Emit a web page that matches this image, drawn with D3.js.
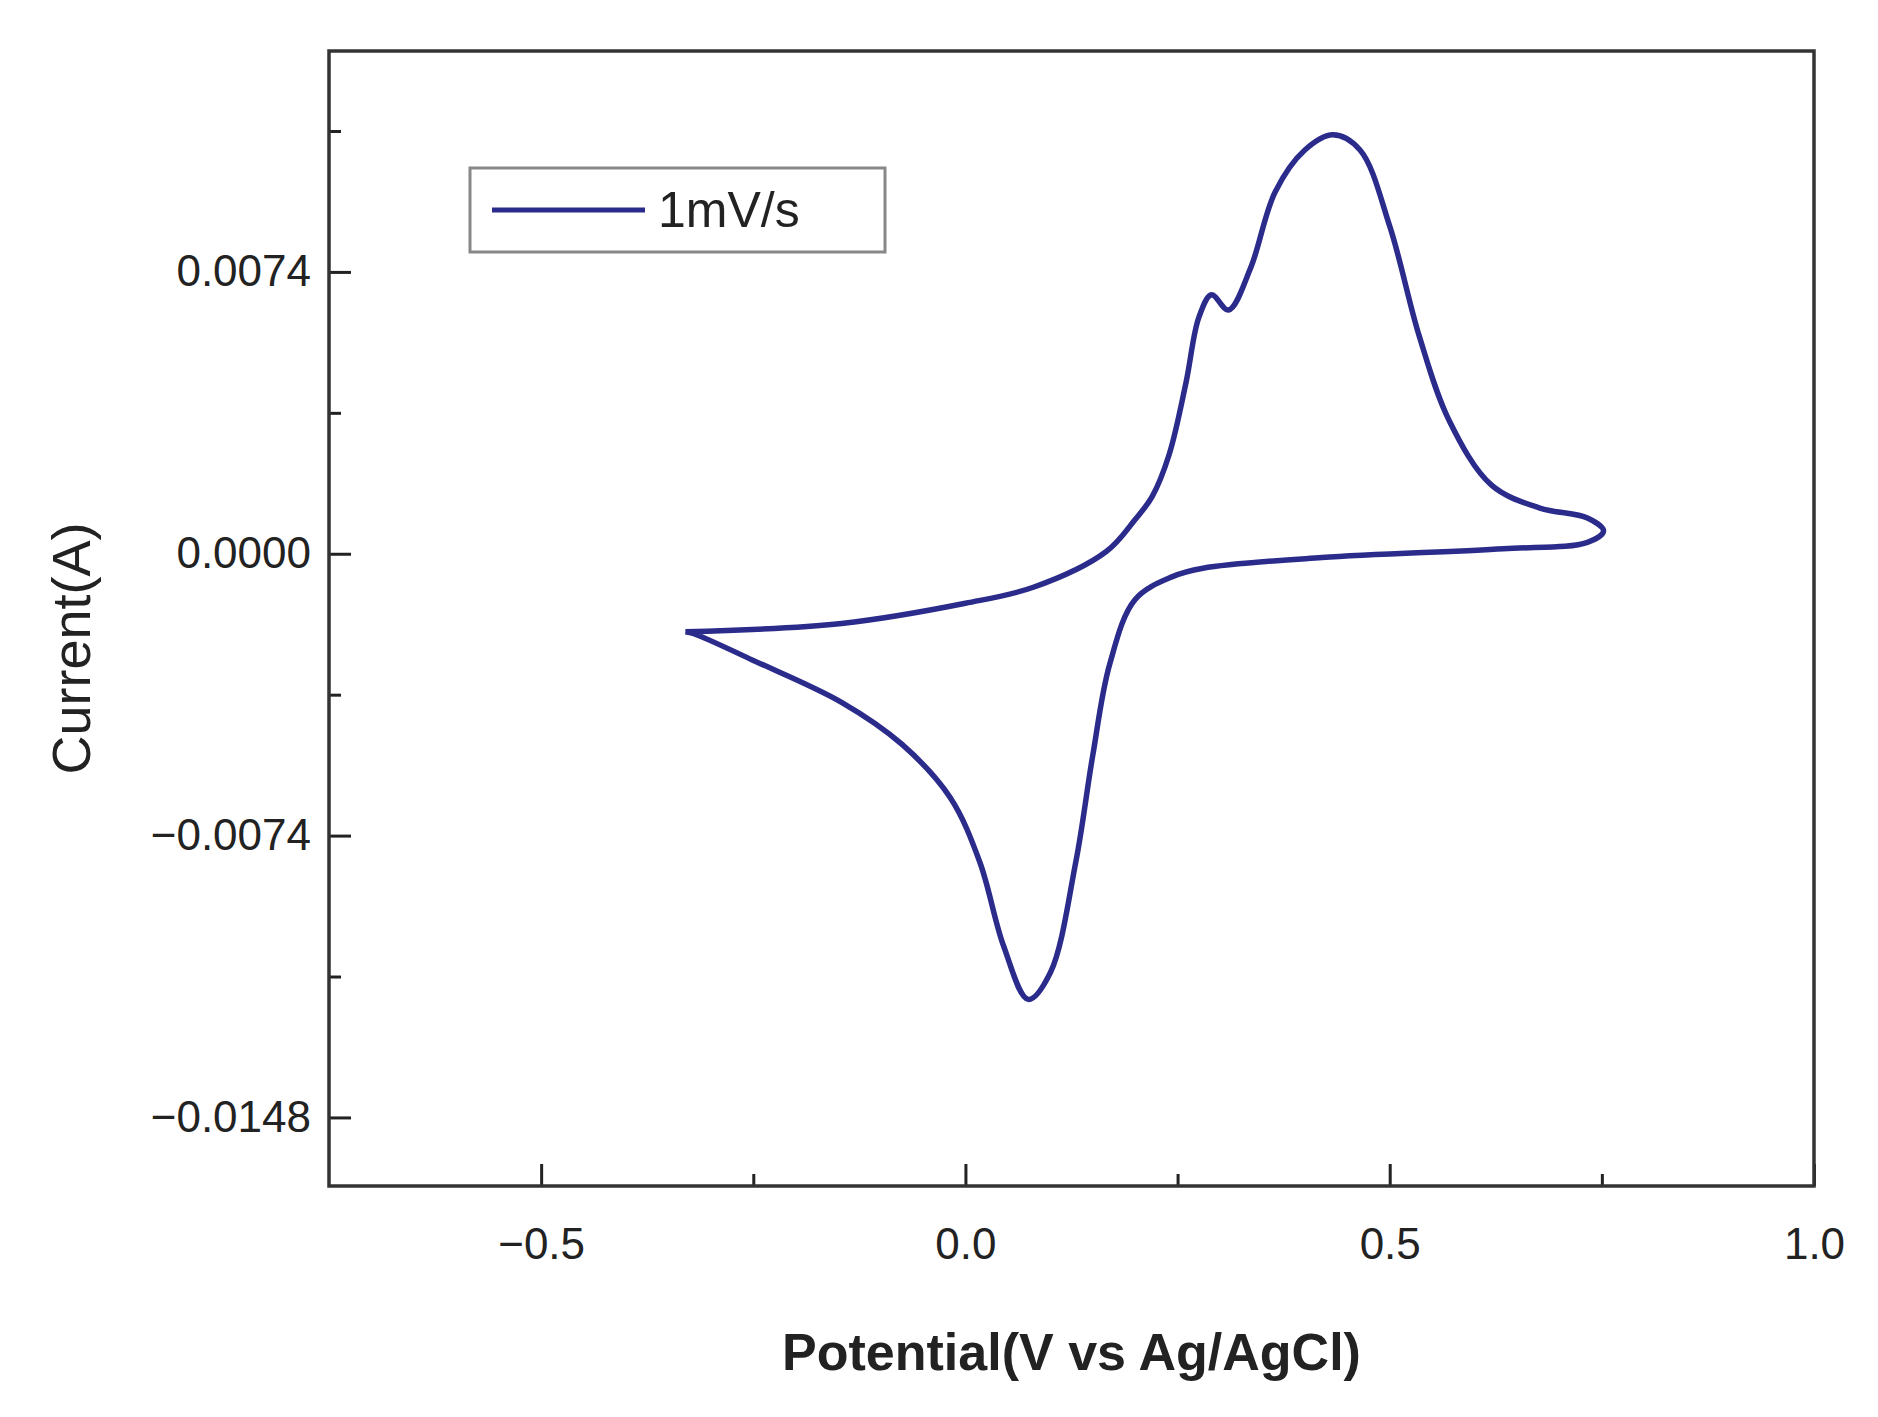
<!DOCTYPE html>
<html><head><meta charset="utf-8">
<script src="https://cdn.jsdelivr.net/npm/d3@7"></script>
<style>body{margin:0;background:#fff}</style></head>
<body><div id="vis"></div>
<script>
// potential (V) and current (A), forward then reverse scan
const potential = [-0.33,-0.146,0,0.08,0.166,0.2,0.22,0.24,0.26,0.275,0.29,0.31,0.336,0.365,0.4,0.433,0.465,0.5,0.535,0.57,0.62,0.677,0.733,0.752,
  0.733,0.634,0.42,0.28,0.244,0.2,0.17,0.15,0.13,0.1,0.074,0.045,0.017,-0.018,-0.075,-0.146,-0.25,-0.32,-0.33]
const current = [-0.00205,-0.00183,-0.0013,-0.00088,0.00006,0.0009,0.0015,0.0026,0.0045,0.0062,0.0068,0.0064,0.0075,0.0095,0.0106,0.011,0.0106,0.0086,0.0057,0.0035,0.0018,0.0012,0.00094,0.0006,
  0.0003,0.00013,-0.0001,-0.00038,-0.0006,-0.0012,-0.0029,-0.0053,-0.0081,-0.011,-0.0117,-0.0103,-0.0081,-0.0064,-0.005,-0.0039,-0.0028,-0.0021,-0.00205]
const xTicks = [-0.5,0.0,0.5,1.0]
const xMinor = [-0.25,0.25,0.75]
const yTicks = [0.0074,0,-0.0074,-0.0148]
const yMinor = [0.0111,0.0037,-0.0037,-0.0111]
const seriesLabel = '1mV/s'

const W = 1878, H = 1417
const m = {l:329, r:64, t:51, b:231}
const svg = d3.select('#vis').append('svg').attr('width',W).attr('height',H)
const x = d3.scaleLinear().domain([-0.75,1.0]).range([m.l,W-m.r])
const y = d3.scaleLinear().domain([-0.0166,0.0132]).range([H-m.b,m.t])
const font = 'Liberation Sans, Arial, sans-serif'

const data = potential.map((v,i)=>({v, c: current[i]}))
svg.append('path').datum(data)
  .attr('d', d3.line().x(d=>x(d.v)).y(d=>y(d.c)).curve(d3.curveCatmullRom))
  .attr('fill','none').attr('stroke','#2b2b8c').attr('stroke-width',5.5)

const xa = svg.append('g').attr('transform',`translate(0,${H-m.b})`)
  .call(d3.axisBottom(x).tickValues(xTicks).tickSize(-22).tickPadding(42).tickFormat(d=>d3.format('.1f')(d).replace('-','−')))
const xm = svg.append('g').attr('transform',`translate(0,${H-m.b})`)
  .call(d3.axisBottom(x).tickValues(xMinor).tickSize(-12).tickFormat(''))
const ya = svg.append('g').attr('transform',`translate(${m.l},0)`)
  .call(d3.axisLeft(y).tickValues(yTicks).tickSize(-22).tickPadding(18).tickFormat(d=>d3.format('.4f')(d).replace('-','−')))
const ym = svg.append('g').attr('transform',`translate(${m.l},0)`)
  .call(d3.axisLeft(y).tickValues(yMinor).tickSize(-12).tickFormat(''))
for (const g of [xa,xm,ya,ym]) {
  g.select('.domain').remove()
  g.selectAll('line').attr('stroke','#222').attr('stroke-width',3)
  g.selectAll('text').attr('font-family',font).attr('font-size',44).attr('fill','#222')
}
svg.append('rect').attr('x',m.l).attr('y',m.t).attr('width',W-m.l-m.r).attr('height',H-m.t-m.b)
  .attr('fill','none').attr('stroke','#333').attr('stroke-width',3.5)

svg.append('text').attr('x',(m.l+W-m.r)/2).attr('y',1370).attr('text-anchor','middle')
  .attr('font-family',font).attr('font-weight','bold').attr('font-size',52).attr('fill','#222')
  .text('Potential(V vs Ag/AgCl)')
svg.append('text').attr('transform',`translate(90,${(m.t+H-m.b)/2+30}) rotate(-90)`).attr('text-anchor','middle')
  .attr('font-family',font).attr('font-size',54).attr('fill','#222').text('Current(A)')

// legend
const lg = svg.append('g').attr('transform','translate(470,168)')
lg.append('rect').attr('width',415).attr('height',84).attr('fill','#fff').attr('stroke','#888').attr('stroke-width',3)
lg.append('line').attr('x1',22).attr('x2',175).attr('y1',42).attr('y2',42).attr('stroke','#2b2b8c').attr('stroke-width',5)
lg.append('text').attr('x',188).attr('y',59).attr('font-family',font).attr('font-size',50).attr('fill','#222').text(seriesLabel)
</script></body></html>
